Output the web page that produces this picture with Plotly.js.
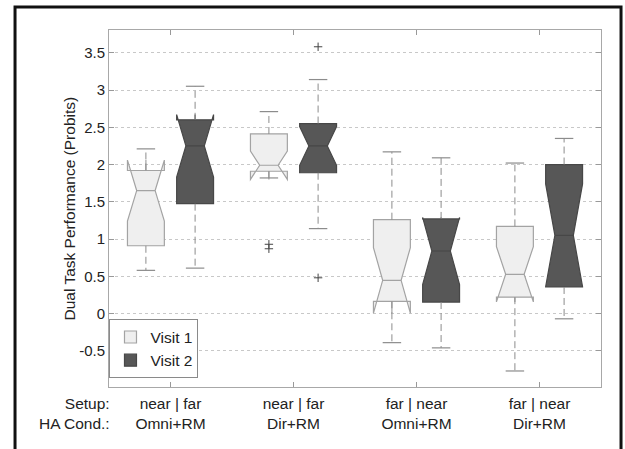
<!DOCTYPE html>
<html>
<head>
<meta charset="utf-8">
<script src="https://cdn.plot.ly/plotly-3.0.1.min.js"></script>
<style>
  html, body { margin: 0; padding: 0; background: #fff; }
  #chart { width: 625px; height: 449px; }
</style>
</head>
<body>
<div id="chart"></div>
<script>
// ---- data ----
const groups = [1, 2, 3, 4];
const groupLabels = ["near | far<br>Omni+RM", "near | far<br>Dir+RM", "far | near<br>Omni+RM", "far | near<br>Dir+RM"];
const yTickVals = [-0.5, 0, 0.5, 1, 1.5, 2, 2.5, 3, 3.5];
const yTickText = ["-0.5", "0", "0.5", "1", "1.5", "2", "2.5", "3", "3.5"];
const yTitle = "Dual Task Performance (Probits)";
const rowLabels = "Setup:<br>HA Cond.:";

const v1Lower  = [0.58, 1.82, -0.39, -0.77];
const v1Q1     = [0.91, 1.91, 0.165, 0.22];
const v1Median = [1.65, 1.99, 0.446, 0.527];
const v1Q3     = [1.92, 2.41, 1.26, 1.17];
const v1Upper  = [2.21, 2.71, 2.17, 2.02];
const v1Notch  = [0.41, 0.19, 0.44, 0.37];
const v1OutlierGroup = [2, 2];
const v1OutlierVal   = [0.93, 0.87];

const v2Lower  = [0.61, 1.14, -0.46, -0.07];
const v2Q1     = [1.475, 1.89, 0.155, 0.357];
const v2Median = [2.25, 2.25, 0.84, 1.05];
const v2Q3     = [2.60, 2.55, 1.27, 2.00];
const v2Upper  = [3.05, 3.14, 2.09, 2.35];
const v2Notch  = [0.42, 0.26, 0.45, 0.69];
const v2OutlierGroup = [2, 2];
const v2OutlierVal   = [3.58, 0.48];

// ---- styling / layout constants ----
const OFFSET = 0.2, BOXW = 0.3, CAPHALF = 0.075;
const lightFill = "#efefef", lightLine = "#a3a3a3";
const darkFill = "#575757", darkLine = "#474747";
const whiskerColor = "#8c8c8c";

function pos(offset) { return groups.map(g => g + offset); }

function whiskerTrace(p, q1, q3, lo, hi) {
  const x = [], y = [];
  p.forEach((pp, i) => {
    x.push(pp, pp, null, pp, pp, null);
    y.push(q3[i], hi[i], null, q1[i], lo[i], null);
  });
  return { type: "scatter", mode: "lines", x, y, hoverinfo: "skip", showlegend: false,
    line: { color: whiskerColor, width: 1, dash: "7px,4px" } };
}
function capTrace(p, lo, hi) {
  const x = [], y = [];
  p.forEach((pp, i) => {
    x.push(pp - CAPHALF, pp + CAPHALF, null, pp - CAPHALF, pp + CAPHALF, null);
    y.push(hi[i], hi[i], null, lo[i], lo[i], null);
  });
  return { type: "scatter", mode: "lines", x, y, hoverinfo: "skip", showlegend: false,
    line: { color: whiskerColor, width: 1.2 } };
}
function boxTrace(name, p, q1, med, q3, notch, fill, line) {
  return { type: "box", name, x: p, q1, median: med, q3,
    lowerfence: q1, upperfence: q3, notchspan: notch, notched: true, notchwidth: 0.25,
    width: BOXW, boxpoints: false, fillcolor: fill, line: { color: line, width: 1.2 },
    whiskerwidth: 0, hoverinfo: "skip" };
}
function outlierTrace(g, v, offset) {
  return { type: "scatter", mode: "markers", x: g.map(x => x + offset), y: v, showlegend: false,
    hoverinfo: "skip", marker: { symbol: "cross-thin", size: 6, line: { color: "#444", width: 1 } } };
}

const p1 = pos(-OFFSET), p2 = pos(OFFSET);
const data = [
  boxTrace("Visit 1", p1, v1Q1, v1Median, v1Q3, v1Notch, lightFill, lightLine),
  boxTrace("Visit 2", p2, v2Q1, v2Median, v2Q3, v2Notch, darkFill, darkLine),
  whiskerTrace(p1, v1Q1, v1Q3, v1Lower, v1Upper),
  whiskerTrace(p2, v2Q1, v2Q3, v2Lower, v2Upper),
  capTrace(p1, v1Lower, v1Upper),
  capTrace(p2, v2Lower, v2Upper),
  outlierTrace(v1OutlierGroup, v1OutlierVal, -OFFSET),
  outlierTrace(v2OutlierGroup, v2OutlierVal, OFFSET)
];

const fam = "Liberation Sans, Arial, sans-serif";
const font = { family: fam, size: 15, color: "#222" };
const xfont = { family: fam, size: 15.5, color: "#222" };
const layout = {
  width: 625, height: 449,
  margin: { l: 109, r: 24, t: 30, b: 62 },
  paper_bgcolor: "#fff", plot_bgcolor: "#fff",
  font,
  showlegend: true,
  boxmode: "overlay",
  xaxis: {
    range: [0.5, 4.5], tickmode: "array", tickvals: groups, ticktext: groupLabels,
    ticks: "inside", ticklen: 5, tickcolor: "#999", showgrid: false, zeroline: false,
    showline: true, linecolor: "#a8a8a8", linewidth: 1, mirror: "ticks",
    tickfont: xfont, ticklabelstandoff: 2
  },
  yaxis: {
    range: [-0.985, 3.805], tickmode: "array", tickvals: yTickVals, ticktext: yTickText,
    ticks: "inside", ticklen: 5, tickcolor: "#999", showgrid: true, gridcolor: "#c8c8c8",
    griddash: "dot", gridwidth: 1, zeroline: false,
    showline: true, linecolor: "#a8a8a8", linewidth: 1, mirror: "ticks",
    tickfont: font
  },
  legend: {
    x: 0.001, y: 0.024, xanchor: "left", yanchor: "bottom",
    bgcolor: "#fff", bordercolor: "#8a8a8a", borderwidth: 1,
    font: { family: fam, size: 15.5, color: "#222" }, tracegroupgap: 0
  },
  annotations: [{
    xref: "paper", yref: "paper", x: 0.006, y: -0.017, xanchor: "right", yanchor: "top",
    align: "right", showarrow: false, text: rowLabels, font: xfont
  }, {
    xref: "paper", yref: "paper", x: -0.0813, y: 0.5, xanchor: "center", yanchor: "middle",
    textangle: -90, showarrow: false, text: yTitle, font: { family: fam, size: 15.5, color: "#222" }
  }],
  shapes: [{
    type: "rect", xref: "paper", yref: "paper",
    x0: -0.191, x1: 1.0407, y0: -0.2, y1: 1.0645,
    line: { color: "#111", width: 3 }, fillcolor: "rgba(0,0,0,0)", layer: "below"
  }]
};

Plotly.newPlot("chart", data, layout, { displayModeBar: false, staticPlot: true });
</script>
</body>
</html>
